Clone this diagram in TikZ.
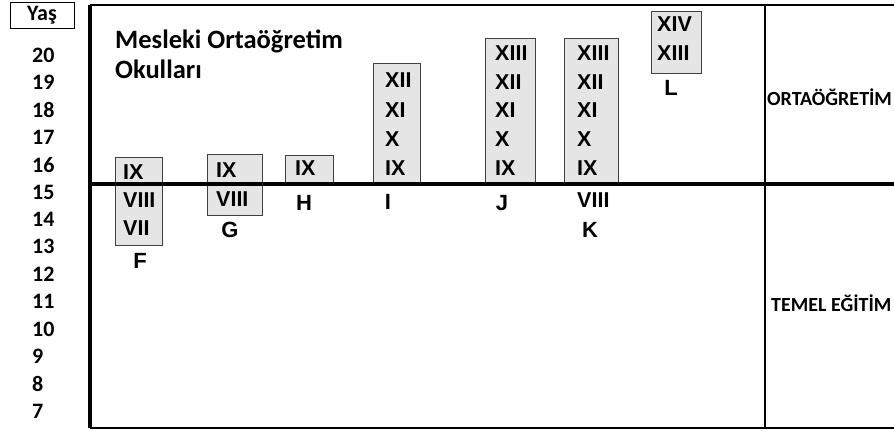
\documentclass[tikz,border=0pt]{standalone}
\usepackage{fontspec}
\setmainfont{Carlito}
\newfontfamily\arialfont{Liberation Sans}

\begin{document}
\begin{tikzpicture}[x=1pt, y=-1pt,
        % styles
        agebox/.style = {
                draw=black, line width=1pt, inner sep=0pt,
                minimum width=64pt, minimum height=26pt,
                font=\fontsize{22}{22}\selectfont\bfseries
            },
        age/.style = {
                anchor=west, inner sep=0pt,
                font=\fontsize{22}{22}\selectfont\bfseries
            },
        title/.style = {
                anchor=base west, inner sep=0pt,
                font=\fontsize{26.5}{26.5}\selectfont\bfseries
            },
        level/.style = {
                anchor=base west, inner sep=0pt,
                font=\fontsize{20}{20}\selectfont\bfseries
            },
        gradebox/.style = {
                anchor=north west, inner sep=0pt,
                draw=black!75, fill=black!10, line width=1.2pt
            },
        grade/.style = {
                anchor=west, inner sep=0pt,
                font=\arialfont\fontsize{21.5}{21.5}\selectfont\bfseries
            },
        school/.style = {
                inner sep=0pt,
                font=\arialfont\fontsize{22}{22}\selectfont\bfseries
            },
        frame/.style = {
                line width=1.3pt
            },
        axis/.style = {
                line width=3.5pt
            }]

    \useasboundingbox (0,0) rectangle (894,432);

    % % age column
    \node (yas) [agebox] at (42,15) {Yaş};
    \node (age20) [age] at (32,55) {20};
    \node (age19) [age] at (32,82.4) {19};
    \node (age18) [age] at (32,109.8) {18};
    \node (age17) [age] at (32,137.2) {17};
    \node (age16) [age] at (32,164.6) {16};
    \node (age15) [age] at (32,192) {15};
    \node (age14) [age] at (32,219.4) {14};
    \node (age13) [age] at (32,246.8) {13};
    \node (age12) [age] at (32,274.2) {12};
    \node (age11) [age] at (32,301.6) {11};
    \node (age10) [age] at (32,329) {10};
    \node (age9) [age] at (32,356.4) {9};
    \node (age8) [age] at (32,383.8) {8};
    \node (age7) [age] at (32,411.2) {7};

    % % frame
    \coordinate (topleft) at (90,5);
    \coordinate (topright) at (894,5);
    \coordinate (botleft) at (90,428);
    \coordinate (botright) at (894,428);
    \coordinate (divtop) at (765,5);
    \coordinate (divbot) at (765,428);
    \coordinate (midleft) at (90,184);
    \coordinate (midright) at (894,184);
    \draw [frame] (topleft) -- (topright);
    \draw [frame] (botleft) -- (botright);
    \draw [frame] (divtop) -- (divbot);

    % % boxes
    \node (boxF) [gradebox, minimum width=47pt, minimum height=88pt] at (115,157) {};
    \node (boxG) [gradebox, minimum width=55pt, minimum height=61pt] at (207,154) {};
    \node (boxH) [gradebox, minimum width=48pt, minimum height=29pt] at (285,155) {};
    \node (boxI) [gradebox, minimum width=47pt, minimum height=121pt] at (373,63) {};
    \node (boxJ) [gradebox, minimum width=50pt, minimum height=146pt] at (485,38) {};
    \node (boxK) [gradebox, minimum width=54pt, minimum height=146pt] at (564,38) {};
    \node (boxL) [gradebox, minimum width=50pt, minimum height=62pt] at (651,11) {};

    \draw [axis] (topleft) -- (botleft);
    \draw [axis] (midleft) -- (midright);

    % % grades
    \node (F9) [grade] at (123,172) {IX};
    \node (F8) [grade] at (123,200) {VIII};
    \node (F7) [grade] at (123,228) {VII};
    \node (G9) [grade] at (216,170) {IX};
    \node (G8) [grade] at (216,199) {VIII};
    \node (H9) [grade] at (295,168) {IX};
    \node (I12) [grade] at (385,80) {XII};
    \node (I11) [grade] at (385,110) {XI};
    \node (I10) [grade] at (385,139) {X};
    \node (I9) [grade] at (385,168) {IX};
    \node (J13) [grade] at (495,53) {XIII};
    \node (J12) [grade] at (495,82) {XII};
    \node (J11) [grade] at (495,110) {XI};
    \node (J10) [grade] at (495,139) {X};
    \node (J9) [grade] at (495,168) {IX};
    \node (K13) [grade] at (577,53) {XIII};
    \node (K12) [grade] at (577,82) {XII};
    \node (K11) [grade] at (577,110) {XI};
    \node (K10) [grade] at (577,139) {X};
    \node (K9) [grade] at (577,168) {IX};
    \node (K8) [grade] at (577,200) {VIII};
    \node (L14) [grade] at (657,24) {XIV};
    \node (L13) [grade] at (657,53) {XIII};

    % % school labels
    \node (F) [school] at (140,261) {F};
    \node (G) [school] at (230,230) {G};
    \node (H) [school] at (304,203) {H};
    \node (I) [school] at (388,202) {I};
    \node (J) [school] at (502,203) {J};
    \node (K) [school] at (590,230) {K};
    \node (L) [school] at (671,88) {L};

    % % texts
    \node (mesleki) [title] at (115,48) {Mesleki Ortaöğretim};
    \node (okullari) [title] at (115,78) {Okulları};
    \node (ortaogretim) [level] at (767,105) {ORTAÖĞRETİM};
    \node (temel) [level] at (771,311) {TEMEL EĞİTİM};

\end{tikzpicture}
\end{document}
